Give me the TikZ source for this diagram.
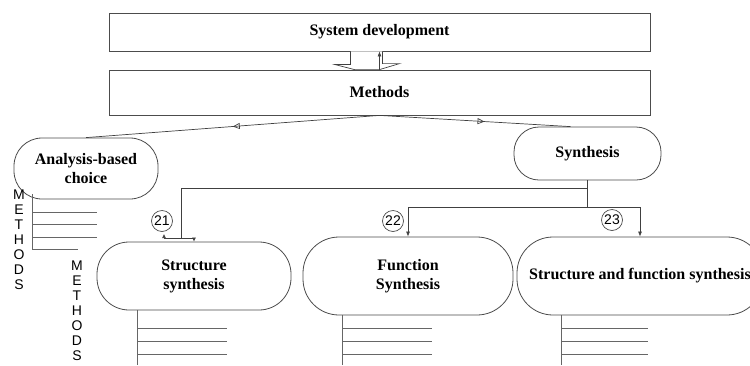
\documentclass[tikz,border=0pt]{standalone}
\usepackage{fontspec}
\setmainfont{Liberation Serif}
\setsansfont{Liberation Sans}
\usetikzlibrary{arrows.meta,calc,decorations.markings}

\tikzset{
  box/.style={draw=black!70, line width=0.8pt, fill=white, inner sep=0pt,
    font=\fontsize{16}{19}\selectfont\bfseries},
  pill/.style={box, rounded corners=28pt, align=center},
  numc/.style={draw=black!70, line width=0.7pt, circle, minimum size=21pt, inner sep=0pt,
    font=\sffamily\fontsize{14}{14}\selectfont},
  wire/.style={draw=black!75, line width=0.7pt},
  tip/.style={-{Latex[length=5pt,width=4pt]}},
  smalltip/.style={-{Latex[length=4pt,width=4pt]}},
  midtri/.style={postaction=decorate, decoration={markings,
    mark=at position #1 with {\arrow{Triangle[open,length=7pt,width=6pt]}}}},
  comb/.style={draw=black!60, line width=0.7pt},
  vtext/.style={font=\sffamily\fontsize{14}{15}\selectfont, align=center, inner sep=0pt},
}

\begin{document}
\begin{tikzpicture}[x=1pt,y=-1pt]
  \useasboundingbox (0,0) rectangle (750,365);

  % boxes
  \node[box, minimum width=541pt, minimum height=38pt] (sysdev) at (379.5,32) {System development};
  \node[box, minimum width=541pt, minimum height=45pt] (methods) at (379.5,92.5) {Methods};
  \node[pill, minimum width=144pt, minimum height=61pt] (analysis) at (86,168.5) {Analysis-based\\choice};
  \node[pill, minimum width=147pt, minimum height=53pt, rounded corners=25pt] (synth) at (587.5,153.5) {Synthesis};
  \node[pill, minimum width=194pt, minimum height=68pt, rounded corners=32pt] (strsyn) at (194,276) {Structure\\synthesis};
  \node[pill, minimum width=210pt, minimum height=78pt, rounded corners=36pt] (funsyn) at (408,276) {Function\\Synthesis};
  \node[pill, minimum width=246pt, minimum height=78pt, rounded corners=36pt] (sfsyn) at (640,276) {Structure and function synthesis};

  % numbers
  \node[numc] (n21) at (162,221) {21};
  \node[numc] (n22) at (393,221) {22};
  \node[numc] (n23) at (612,220) {23};

  % block arrow between the top boxes
  \draw[wire, fill=white] ($(sysdev.south)+(-29,0)$) -- ++(0,13) -- ++(-16,0)
    -- ($(methods.north)+(-25,0)$) -- (methods.north) -- ++(20,-6) -- ++(-17,0)
    -- ($(sysdev.south)+(3,0)$);
  \draw[wire, tip] (methods.north) -- (sysdev.south);

  % methods to the two branches
  \draw[wire, midtri=0.5] (methods.south) -- (analysis.north);
  \draw[wire, midtri=0.55] (methods.south) -- ([xshift=-17pt]synth.north);

  % synthesis to the three kinds
  \coordinate (split) at ($(synth.south)+(0,8)$);
  \coordinate (fork) at ($(synth.south)+(0,27)$);
  \coordinate (bend) at (181,238);
  \draw[wire, tip] (synth.south) -- (fork) -| (funsyn.north);
  \draw[wire, tip] (fork) -| (sfsyn.north);
  \draw[wire, smalltip] (split) -| (bend) -| (strsyn.north);
  \draw[wire, smalltip] (bend) -- ++(-17,0) -- ++(0,-4);

  % method lists
  \draw[comb] (32,194) -- (32,249) -- (78,249);
  \foreach \y in {212,224,237}
    \draw[comb] (32,\y) -- (97,\y);
  \foreach \x/\top/\len in {137/310/90, 342/315/90, 561/315/87} {
    \draw[comb] (\x,\top) -- (\x,365);
    \foreach \y in {328,341,354}
      \draw[comb] (\x,\y) -- ++(\len,0);
  }

  \node[vtext] (meth1) at (19,240) {M\\E\\T\\H\\O\\D\\S};
  \node[vtext] (meth2) at (77,311) {M\\E\\T\\H\\O\\D\\S};
\end{tikzpicture}
\end{document}
